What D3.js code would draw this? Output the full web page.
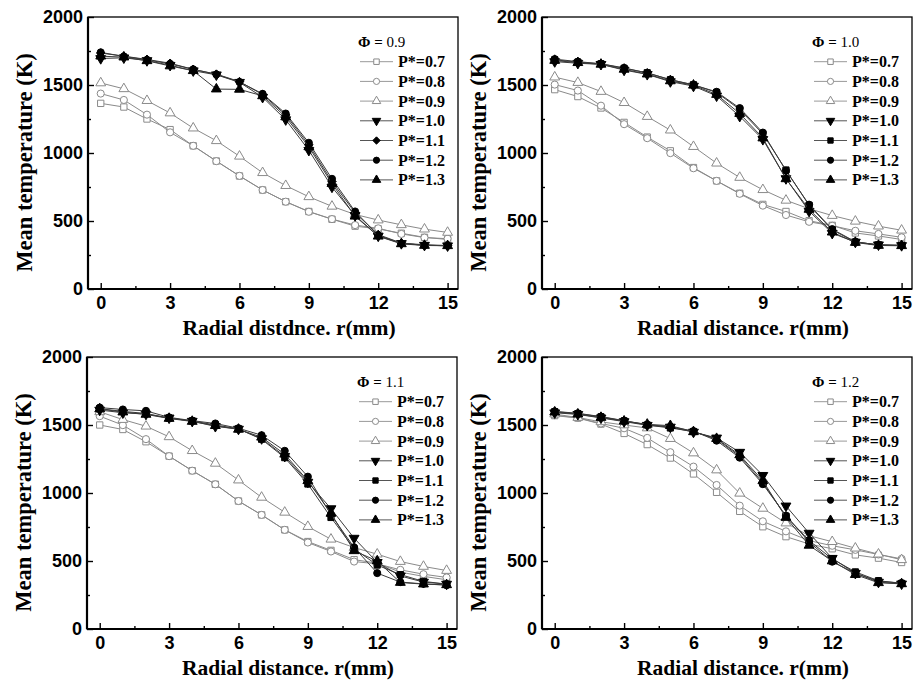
<!DOCTYPE html>
<html>
<head>
<meta charset="utf-8">
<script src="https://cdn.jsdelivr.net/npm/d3@7"></script>
<style>
	body { margin: 0; background: #fff; }
	svg { display: block; }
</style>
</head>
<body>
<svg id="chart" width="914" height="682"></svg>
<script>
// radial positions (mm)
const radialDistance = [0, 1, 2, 3, 4, 5, 6, 7, 8, 9, 10, 11, 12, 13, 14, 15];
const pressureLabels = ["P*=0.7", "P*=0.8", "P*=0.9", "P*=1.0", "P*=1.1", "P*=1.2", "P*=1.3"];
const phiValues = ["0.9", "1.0", "1.1", "1.2"];
const xAxisTitles = ["Radial distdnce. r(mm)", "Radial distance. r(mm)", "Radial distance. r(mm)", "Radial distance. r(mm)"];
const yAxisTitle = "Mean temperature (K)";
const xTicks = [0, 3, 6, 9, 12, 15];
const xMinorTicks = [1.5, 4.5, 7.5, 10.5, 13.5];
const yTicks = [0, 500, 1000, 1500, 2000];
const yMinorTicks = [250, 750, 1250, 1750];

// Phi = 0.9
const phi09_p07 = [1365, 1338, 1250, 1172, 1053, 941, 831, 728, 642, 570, 513, 462, 442, 410, 380, 364];
const phi09_p08 = [1437, 1390, 1282, 1152, 1053, 940, 832, 728, 642, 568, 514, 470, 446, 405, 378, 370];
const phi09_p09 = [1515, 1472, 1385, 1294, 1183, 1090, 976, 855, 760, 678, 608, 548, 507, 472, 440, 416];
const phi09_p10 = [1695, 1700, 1680, 1645, 1605, 1575, 1520, 1410, 1245, 1020, 750, 540, 390, 335, 322, 318];
const phi09_p11 = [1735, 1712, 1688, 1660, 1615, 1580, 1525, 1430, 1280, 1060, 790, 560, 400, 338, 325, 320];
const phi09_p12 = [1740, 1710, 1685, 1655, 1615, 1578, 1522, 1435, 1290, 1075, 810, 570, 395, 335, 322, 318];
const phi09_p13 = [1712, 1705, 1678, 1640, 1605, 1470, 1468, 1420, 1265, 1045, 775, 535, 388, 332, 320, 318];

// Phi = 1.0
const phi10_p07 = [1466, 1415, 1331, 1225, 1117, 1016, 893, 795, 704, 622, 570, 502, 468, 412, 390, 364];
const phi10_p08 = [1503, 1459, 1348, 1212, 1109, 999, 888, 795, 700, 613, 544, 494, 465, 428, 405, 380];
const phi10_p09 = [1558, 1518, 1452, 1370, 1268, 1168, 1047, 925, 820, 730, 652, 590, 540, 498, 462, 432];
const phi10_p10 = [1672, 1660, 1652, 1610, 1578, 1525, 1492, 1420, 1270, 1100, 812, 572, 410, 345, 325, 320];
const phi10_p11 = [1685, 1668, 1656, 1622, 1590, 1538, 1502, 1445, 1320, 1140, 875, 615, 435, 345, 325, 322];
const phi10_p12 = [1690, 1672, 1656, 1626, 1588, 1540, 1500, 1450, 1330, 1150, 870, 620, 440, 348, 322, 320];
const phi10_p13 = [1680, 1664, 1652, 1615, 1580, 1530, 1498, 1430, 1290, 1110, 810, 585, 418, 342, 320, 318];

// Phi = 1.1
const phi11_p07 = [1500, 1467, 1377, 1271, 1164, 1064, 941, 839, 729, 643, 578, 510, 484, 418, 387, 362];
const phi11_p08 = [1565, 1499, 1396, 1271, 1164, 1064, 941, 839, 729, 636, 570, 496, 479, 435, 403, 379];
const phi11_p09 = [1597, 1540, 1491, 1413, 1311, 1218, 1095, 968, 858, 753, 660, 599, 550, 496, 460, 430];
const phi11_p10 = [1610, 1590, 1580, 1552, 1528, 1490, 1470, 1400, 1270, 1080, 885, 668, 490, 390, 345, 330];
const phi11_p11 = [1620, 1600, 1585, 1550, 1530, 1500, 1472, 1395, 1260, 1066, 820, 590, 470, 400, 350, 330];
const phi11_p12 = [1628, 1614, 1604, 1556, 1532, 1511, 1476, 1425, 1310, 1120, 840, 600, 411, 345, 332, 322];
const phi11_p13 = [1618, 1595, 1578, 1548, 1526, 1495, 1468, 1410, 1285, 1090, 850, 575, 500, 342, 330, 325];

// Phi = 1.2
const phi12_p07 = [1569, 1551, 1507, 1438, 1356, 1257, 1140, 1005, 865, 752, 679, 625, 590, 545, 521, 489];
const phi12_p08 = [1572, 1553, 1511, 1476, 1405, 1300, 1194, 1059, 907, 792, 718, 650, 612, 582, 548, 516];
const phi12_p09 = [1580, 1555, 1523, 1500, 1478, 1400, 1294, 1169, 998, 887, 779, 686, 642, 594, 550, 509];
const phi12_p10 = [1590, 1578, 1552, 1525, 1498, 1485, 1448, 1405, 1300, 1130, 905, 705, 520, 410, 345, 332];
const phi12_p11 = [1598, 1584, 1560, 1530, 1500, 1478, 1452, 1395, 1270, 1075, 830, 650, 515, 420, 355, 335];
const phi12_p12 = [1600, 1586, 1562, 1532, 1502, 1488, 1455, 1385, 1260, 1065, 833, 640, 495, 410, 352, 338];
const phi12_p13 = [1595, 1580, 1555, 1528, 1505, 1495, 1450, 1400, 1280, 1090, 820, 615, 500, 400, 340, 332];

const panelSeries = [
	[phi09_p07, phi09_p08, phi09_p09, phi09_p10, phi09_p11, phi09_p12, phi09_p13],
	[phi10_p07, phi10_p08, phi10_p09, phi10_p10, phi10_p11, phi10_p12, phi10_p13],
	[phi11_p07, phi11_p08, phi11_p09, phi11_p10, phi11_p11, phi11_p12, phi11_p13],
	[phi12_p07, phi12_p08, phi12_p09, phi12_p10, phi12_p11, phi12_p12, phi12_p13]
];

// layout
const panelOrigins = [[88, 17], [542, 17], [87, 357], [542, 357]];
const plotW = 370, plotH = 272;

const serif = "'Liberation Serif', 'Times New Roman', serif";
const sans = "'Liberation Sans', Arial, sans-serif";
const grey = "#8a8a8a";

// marker per series; panel 1 uses a diamond for P*=1.1
function markerFor(si, pi) {
	let m = [
		{type: d3.symbolSquare, size: 40, fill: "#fff", stroke: grey, rot: 0},
		{type: d3.symbolCircle, size: 40, fill: "#fff", stroke: grey, rot: 0},
		{type: d3.symbolTriangle, size: 42, fill: "#fff", stroke: grey, rot: 0},
		{type: d3.symbolTriangle, size: 42, fill: "#000", stroke: "#000", rot: 180},
		{type: d3.symbolSquare, size: 38, fill: "#000", stroke: "#000", rot: 0},
		{type: d3.symbolCircle, size: 40, fill: "#000", stroke: "#000", rot: 0},
		{type: d3.symbolTriangle, size: 42, fill: "#000", stroke: "#000", rot: 0}
	][si];
	if (pi == 0 && si == 4) {
		m = {type: d3.symbolDiamond2, size: 46, fill: "#000", stroke: "#000", rot: 0};
	}
	return m;
}

const svg = d3.select("#chart");

panelSeries.forEach(function(series, pi) {
	let g = svg.append("g")
		.attr("transform", "translate(" + panelOrigins[pi][0] + "," + panelOrigins[pi][1] + ")");

	let x = d3.scaleLinear().domain([-0.55, 15.45]).range([0, plotW]);
	let y = d3.scaleLinear().domain([0, 2000]).range([plotH, 0]);

	//Axes with inward ticks
	g.append("g")
		.attr("transform", "translate(0," + plotH + ")")
		.call(d3.axisBottom(x).tickValues(xTicks).tickSizeInner(-6).tickSizeOuter(0).tickPadding(7));
	g.append("g")
		.attr("transform", "translate(0," + plotH + ")")
		.call(d3.axisBottom(x).tickValues(xMinorTicks).tickSizeInner(-3).tickSizeOuter(0).tickFormat(""));
	g.append("g")
		.call(d3.axisLeft(y).tickValues(yTicks).tickFormat(d3.format("d")).tickSizeInner(-6).tickSizeOuter(0).tickPadding(5));
	g.append("g")
		.call(d3.axisLeft(y).tickValues(yMinorTicks).tickSizeInner(-3).tickSizeOuter(0).tickFormat(""));

	g.selectAll(".domain").remove();
	g.selectAll(".tick line").attr("stroke", "#000").attr("stroke-width", 1.4);
	g.selectAll(".tick text")
		.attr("fill", "#000")
		.style("font-family", sans)
		.style("font-weight", "bold")
		.style("font-size", "18px");

	//Frame
	g.append("rect")
		.attr("width", plotW).attr("height", plotH)
		.attr("fill", "none").attr("stroke", "#000").attr("stroke-width", 1.3);
	g.append("line").attr("x1", 0).attr("x2", 0).attr("y1", 0).attr("y2", plotH)
		.attr("stroke", "#000").attr("stroke-width", 2.2);
	g.append("line").attr("x1", 0).attr("x2", plotW).attr("y1", plotH).attr("y2", plotH)
		.attr("stroke", "#000").attr("stroke-width", 2.2);

	//Axis titles
	g.append("text")
		.attr("x", 201).attr("y", plotH + 46)
		.attr("text-anchor", "middle")
		.style("font-family", serif).style("font-weight", "bold").style("font-size", "21.5px")
		.text(xAxisTitles[pi]);
	g.append("text")
		.attr("transform", "translate(-56," + 145.5 + ") rotate(-90)")
		.attr("text-anchor", "middle")
		.style("font-family", serif).style("font-weight", "bold").style("font-size", "22.5px")
		.text(yAxisTitle);

	//Lines and markers
	let line = d3.line()
		.x((d, i) => x(radialDistance[i]))
		.y(d => y(d));

	series.forEach(function(vals, si) {
		let m = markerFor(si, pi);
		g.append("path")
			.datum(vals)
			.attr("d", line)
			.attr("fill", "none")
			.attr("stroke", si < 3 ? grey : "#3a3a3a")
			.attr("stroke-width", 1);
		g.selectAll(".m" + si)
			.data(vals)
			.enter()
			.append("path")
			.attr("class", "m" + si)
			.attr("d", d3.symbol().type(m.type).size(m.size))
			.attr("transform", (d, i) => "translate(" + x(radialDistance[i]) + "," + y(d) + ") rotate(" + m.rot + ")")
			.attr("fill", m.fill)
			.attr("stroke", m.stroke)
			.attr("stroke-width", 1);
	});

	//Legend
	let lg = g.append("g").attr("transform", "translate(270,0)");
	let title = lg.append("text")
		.attr("x", 0).attr("y", 30)
		.style("font-family", serif).style("font-size", "15px");
	title.append("tspan").style("font-weight", "bold").text("\u03A6 = ");
	title.append("tspan").text(phiValues[pi]);

	pressureLabels.forEach(function(lab, si) {
		let m = markerFor(si, pi);
		let cy = 44.7 + si * 19.7;
		lg.append("line")
			.attr("x1", 2).attr("x2", 35).attr("y1", cy).attr("y2", cy)
			.attr("stroke", si < 3 ? "#999" : "#555").attr("stroke-width", 1);
		lg.append("path")
			.attr("d", d3.symbol().type(m.type).size(m.size * 0.75))
			.attr("transform", "translate(18.5," + cy + ") rotate(" + m.rot + ")")
			.attr("fill", m.fill)
			.attr("stroke", m.stroke)
			.attr("stroke-width", 1);
		lg.append("text")
			.attr("x", 40).attr("y", cy + 5.5)
			.style("font-family", serif).style("font-weight", "bold").style("font-size", "16px")
			.text(lab);
	});
});
</script>
</body>
</html>
